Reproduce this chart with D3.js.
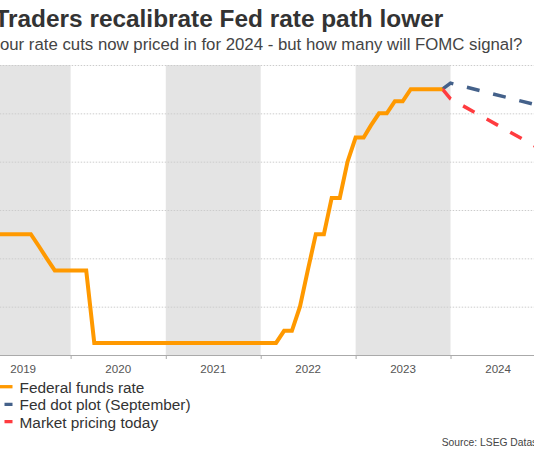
<!DOCTYPE html>
<html><head><meta charset="utf-8">
<script src="https://cdn.jsdelivr.net/npm/d3@7"></script>
<style>html,body{margin:0;padding:0;background:#fff;overflow:hidden}</style>
</head><body>
<svg id="c" width="534" height="450"></svg>
<script>
// ---------- data ----------
const titleText = "Traders recalibrate Fed rate path lower";
const subtitleText = "Four rate cuts now priced in for 2024 - but how many will FOMC signal?";
const sourceText = "Source: LSEG Datastream";
const yearLabels = ["2019", "2020", "2021", "2022", "2023", "2024"];
const shadedYears = ["2019", "2021", "2023"];
const gridValues = [1, 2, 3, 4, 5, 6];

const fedMonths = [
  "2019-01","2019-02","2019-03","2019-04","2019-05","2019-06","2019-07","2019-08","2019-09","2019-10","2019-11","2019-12",
  "2020-01","2020-02","2020-03","2020-04","2020-05","2020-06","2020-07","2020-08","2020-09","2020-10","2020-11","2020-12",
  "2021-01","2021-02","2021-03","2021-04","2021-05","2021-06","2021-07","2021-08","2021-09","2021-10","2021-11","2021-12",
  "2022-01","2022-02","2022-03","2022-04","2022-05","2022-06","2022-07","2022-08","2022-09","2022-10","2022-11","2022-12",
  "2023-01","2023-02","2023-03","2023-04","2023-05","2023-06","2023-07","2023-08","2023-09","2023-10","2023-11","2023-12"
];
const fedRate = [
  2.5, 2.5, 2.5, 2.5, 2.5, 2.5, 2.5, 2.5, 2.25, 2.0, 1.75, 1.75,
  1.75, 1.75, 1.75, 0.25, 0.25, 0.25, 0.25, 0.25, 0.25, 0.25, 0.25, 0.25,
  0.25, 0.25, 0.25, 0.25, 0.25, 0.25, 0.25, 0.25, 0.25, 0.25, 0.25, 0.25,
  0.25, 0.25, 0.25, 0.5, 0.5, 1.0, 1.75, 2.5, 2.5, 3.25, 3.25, 4.0,
  4.5, 4.5, 4.75, 5.0, 5.0, 5.25, 5.25, 5.5, 5.5, 5.5, 5.5, 5.5
];
const dotMonths = ["2023-12", "2024-01", "2025-01"];
const dotPlot = [5.5, 5.625, 5.125];
const marketMonths = ["2023-12", "2024-01", "2025-01"];
const marketPricing = [5.5, 5.3, 4.2];

const seriesNames = ["Federal funds rate", "Fed dot plot (September)", "Market pricing today"];
const seriesColors = ["#ff9900", "#44618a", "#ff3b3f"];

// ---------- layout ----------
const svg = d3.select("#c");
const parseM = d3.utcParse("%Y-%m");
const parseY = d3.utcParse("%Y");
const plotTop = 65, plotBottom = 355;

const x = d3.scaleUtc()
  .domain([parseY("2019"), parseY("2025")])
  .range([-24.3, 545.7]);
const y = d3.scaleLinear().domain([0, 6]).range([plotBottom, plotTop]);

const font = "'Liberation Sans', Arial, Helvetica, sans-serif";

// shading
svg.append("g").selectAll("rect")
  .data(shadedYears)
  .join("rect")
  .attr("x", d => x(parseY(d)))
  .attr("width", d => x(d3.utcYear.offset(parseY(d), 1)) - x(parseY(d)))
  .attr("y", y(6))
  .attr("height", y(0) - y(6))
  .attr("fill", "#e4e4e4");

// gridlines
const grid = svg.append("g")
  .attr("transform", `translate(${x.range()[0]},0)`)
  .call(d3.axisRight(y).tickValues(gridValues).tickSize(x.range()[1] - x.range()[0]).tickFormat(""));
grid.select(".domain").remove();
grid.selectAll(".tick line")
  .attr("stroke", "#cccccc")
  .attr("stroke-width", 1)
  .attr("stroke-dasharray", "1.5,1.5");

// x axis (ticks at year boundaries)
const tickDates = yearLabels.slice(1).map(parseY);
const xAxis = svg.append("g")
  .attr("transform", `translate(0,${plotBottom})`)
  .call(d3.axisBottom(x).tickValues(tickDates).tickSize(4).tickSizeOuter(0).tickFormat(""));
xAxis.select(".domain").attr("stroke", "#aaaaaa");
xAxis.selectAll(".tick line").attr("stroke", "#aaaaaa");

// year labels at mid-year
svg.append("g").selectAll("text")
  .data(yearLabels)
  .join("text")
  .attr("x", d => (x(parseY(d)) + x(d3.utcYear.offset(parseY(d), 1))) / 2)
  .attr("y", 373.3)
  .attr("text-anchor", "middle")
  .attr("font-family", font)
  .attr("font-size", "11.6px")
  .attr("fill", "#555")
  .text(d => d);

// lines
const line = d3.line().x(d => x(d.date)).y(d => y(d.v));
const fedData = fedMonths.map((m, i) => ({ date: parseM(m), v: fedRate[i] }));
const dotData = dotMonths.map((m, i) => ({ date: parseM(m), v: dotPlot[i] }));
const mktData = marketMonths.map((m, i) => ({ date: parseM(m), v: marketPricing[i] }));

svg.append("path").datum(dotData)
  .attr("d", line).attr("fill", "none")
  .attr("stroke", seriesColors[1]).attr("stroke-width", 3.5)
  .attr("stroke-dasharray", "13,14");
svg.append("path").datum(mktData)
  .attr("d", line).attr("fill", "none")
  .attr("stroke", seriesColors[2]).attr("stroke-width", 3.5)
  .attr("stroke-dasharray", "13,14");
svg.append("path").datum(fedData)
  .attr("d", line).attr("fill", "none")
  .attr("stroke", seriesColors[0]).attr("stroke-width", 4)
  .attr("stroke-linejoin", "miter");

// title & subtitle
svg.append("text")
  .attr("x", -5.5).attr("y", 26.7)
  .attr("font-family", font).attr("font-weight", "bold")
  .attr("font-size", "24.4px").attr("fill", "#333")
  .text(titleText);
svg.append("text")
  .attr("x", -10.3).attr("y", 50)
  .attr("font-family", font)
  .attr("font-size", "16.8px").attr("fill", "#444")
  .text(subtitleText);

// legend
const legendY = [386.7, 404.3, 421.7];
const lg = svg.append("g");
seriesNames.forEach((name, i) => {
  lg.append("line")
    .attr("x1", -11.5).attr("x2", 12.5)
    .attr("y1", legendY[i]).attr("y2", legendY[i])
    .attr("stroke", seriesColors[i]).attr("stroke-width", 3.3)
    .attr("stroke-dasharray", i === 0 ? null : "8,8");
  lg.append("text")
    .attr("x", 19.5).attr("y", legendY[i] + 5.8)
    .attr("font-family", font).attr("font-size", "15.4px").attr("fill", "#333")
    .text(name);
});

// source
svg.append("text")
  .attr("x", 441.7).attr("y", 446)
  .attr("font-family", font).attr("font-size", "10.3px").attr("fill", "#444")
  .text(sourceText);
</script>
</body></html>
